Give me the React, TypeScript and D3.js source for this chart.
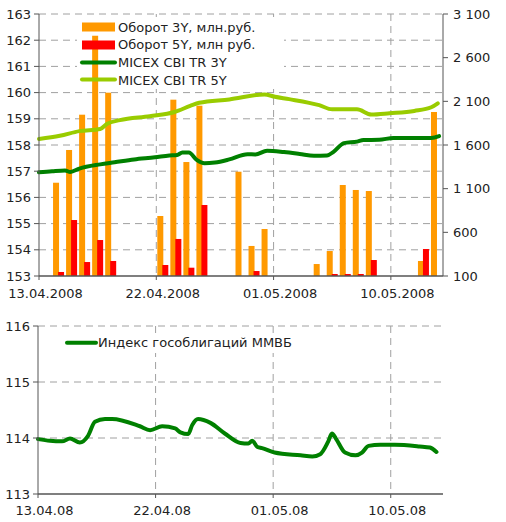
import React from 'react';
import * as d3 from 'd3';

// ---------- DATA ----------
const parse = d3.timeParse('%Y-%m-%d');
const START = parse('2008-04-13') as Date;
const END = parse('2008-05-14') as Date;

const barDates = ['2008-04-14', '2008-04-15', '2008-04-16', '2008-04-17', '2008-04-18',
  '2008-04-22', '2008-04-23', '2008-04-24', '2008-04-25', '2008-04-28', '2008-04-29',
  '2008-04-30', '2008-05-04', '2008-05-05', '2008-05-06', '2008-05-07', '2008-05-08',
  '2008-05-12', '2008-05-13'];
const turnover3Y = [1168, 1543, 1947, 2851, 2199, 787, 2119, 1405, 2050, 1294, 444, 638, 237, 386, 1142, 1085, 1073, 272, 1978];
const turnover5Y: (number | null)[] = [146, 741, 260, 512, 272, 226, 524, 195, 913, null, 157, null, null, 123, 123, 123, 283, 409, null];

// day offsets from 13.04.2008
const cbi3YDays = [0, 1, 2, 2.4, 3.1, 4.7, 5.8, 7.3, 8.9, 10, 10.6, 11, 11.5, 12.1, 12.7, 13.5, 14.6, 16, 16.6, 17.5, 18.8, 20, 21.1, 22.1, 22.6, 23.4, 24.4, 24.9, 26.1, 27.2, 30.1, 30.7];
const cbi3YValues = [156.96, 157.0, 157.03, 156.97, 157.1, 157.26, 157.34, 157.45, 157.53, 157.6, 157.62, 157.71, 157.71, 157.43, 157.3, 157.33, 157.45, 157.65, 157.64, 157.78, 157.73, 157.66, 157.59, 157.6, 157.74, 158.07, 158.13, 158.19, 158.2, 158.27, 158.27, 158.34];

const cbi5YDays = [0, 1.6, 3.1, 4.7, 5.2, 6.2, 8.5, 10.4, 11.6, 12.3, 14.6, 17.3, 18.1, 19.2, 21.5, 22.5, 24.4, 25.5, 26.9, 28.8, 30.1, 30.6];
const cbi5YValues = [158.23, 158.35, 158.53, 158.61, 158.8, 158.95, 159.1, 159.26, 159.49, 159.61, 159.74, 159.93, 159.84, 159.75, 159.52, 159.36, 159.36, 159.16, 159.21, 159.3, 159.44, 159.59];

const mmvbDays = [0, 0.92, 1.84, 2.45, 3.2, 3.83, 4.36, 5.13, 5.67, 7.8, 8.58, 9.5, 10.5, 10.9, 11.5, 11.8, 12.25, 13.2, 14.3, 15.5, 16.1, 16.4, 16.8, 17.15, 18.1, 20.1, 21, 21.6, 22.2, 22.5, 22.8, 23.5, 24.3, 24.8, 25.3, 26.2, 27.3, 29.2, 30, 30.5];
const mmvbValues = [113.98, 113.95, 113.94, 113.99, 113.92, 114.04, 114.29, 114.34, 114.34, 114.21, 114.14, 114.21, 114.17, 114.10, 114.07, 114.23, 114.34, 114.27, 114.08, 113.91, 113.9, 113.95, 113.84, 113.82, 113.74, 113.69, 113.67, 113.71, 113.93, 114.08, 113.99, 113.74, 113.69, 113.74, 113.86, 113.88, 113.88, 113.85, 113.83, 113.75];

const dateTicks = ['2008-04-13', '2008-04-22', '2008-05-01', '2008-05-10'];
const leftTicksTop = [153, 154, 155, 156, 157, 158, 159, 160, 161, 162, 163];
const rightTicksTop = [100, 600, 1100, 1600, 2100, 2600, 3100];
const rightTickLabels = ['100', '600', '1 100', '1 600', '2 100', '2 600', '3 100'];
const leftTicksBottom = [113, 114, 115, 116];

const legendTop = ['Оборот 3Y, млн.руб.', 'Оборот 5Y, млн руб.', 'MICEX CBI TR 3Y', 'MICEX CBI TR 5Y'];
const legendBottom = 'Индекс гособлигаций ММВБ';

// ---------- STYLE ----------
const ORANGE = '#ff9900';
const RED = '#ff0000';
const DKGREEN = '#008000';
const LTGREEN = '#99cc00';
const GRID = '#a0a0a0';
const AXIS = '#555555';
const TEXT = '#222222';
const FONT = 'DejaVu Sans, Verdana, sans-serif';

const dayDate = (d: number) => new Date(START.getTime() + d * 86400000);
const noon = (s: string) => new Date((parse(s) as Date).getTime() + 12 * 3600000);

export default function App() {
  // top chart scales
  const xT = d3.scaleTime().domain([START, END]).range([39, 443]);
  const yL = d3.scaleLinear().domain([153, 163]).range([276, 14]);
  const yR = d3.scaleLinear().domain([100, 3100]).range([276, 14]);
  // bottom chart scales
  const xB = d3.scaleTime().domain([START, END]).range([38, 443]);
  const yB = d3.scaleLinear().domain([113, 116]).range([494, 326]);

  const line3 = d3.line<number>()
    .x((_, i) => xT(dayDate(cbi3YDays[i])))
    .y((v) => yL(v))
    .curve(d3.curveMonotoneX);
  const line5 = d3.line<number>()
    .x((_, i) => xT(dayDate(cbi5YDays[i])))
    .y((v) => yL(v))
    .curve(d3.curveMonotoneX);
  const lineB = d3.line<number>()
    .x((_, i) => xB(dayDate(mmvbDays[i])))
    .y((v) => yB(v))
    .curve(d3.curveMonotoneX);

  const fmtLong = d3.timeFormat('%d.%m.%Y');
  const fmtShort = d3.timeFormat('%d.%m.%y');
  const barW = 6;

  return (
    <svg width={506} height={522} style={{ position: 'absolute', left: 0, top: 0, background: '#fff' }}
      fontFamily={FONT}>
      {/* ===== TOP CHART ===== */}
      <g>
        {leftTicksTop.slice(1).map((t) => (
          <line key={'hg' + t} x1={39} x2={443} y1={yL(t)} y2={yL(t)} stroke={GRID} strokeDasharray="7,5" />
        ))}
        {dateTicks.slice(1).map((s) => (
          <line key={'vg' + s} x1={xT(parse(s) as Date)} x2={xT(parse(s) as Date)} y1={14} y2={276}
            stroke={GRID} strokeDasharray="7,5" />
        ))}
        {/* legend background */}
        <rect x={77} y={17} width={207} height={72} fill="#fff" />
        {/* bars */}
        {barDates.map((s, i) => {
          const c = xT(noon(s));
          return (
            <g key={'b' + s}>
              <rect x={c - 5.5} y={yR(turnover3Y[i])} width={barW} height={yR(100) - yR(turnover3Y[i])} fill={ORANGE} />
              {turnover5Y[i] != null && (
                <rect x={c - 0.5} y={yR(turnover5Y[i] as number)} width={barW}
                  height={yR(100) - yR(turnover5Y[i] as number)} fill={RED} />
              )}
            </g>
          );
        })}
        <path d={line5(cbi5YValues) || ''} fill="none" stroke={LTGREEN} strokeWidth={4} strokeLinejoin="round" strokeLinecap="round" />
        <path d={line3(cbi3YValues) || ''} fill="none" stroke={DKGREEN} strokeWidth={4} strokeLinejoin="round" strokeLinecap="round" />
        {/* axes */}
        <line x1={39} x2={39} y1={14} y2={276} stroke={AXIS} />
        <line x1={443} x2={443} y1={14} y2={276} stroke={AXIS} />
        <line x1={39} x2={443} y1={276} y2={276} stroke={AXIS} strokeWidth={1.5} />
        {leftTicksTop.map((t) => (
          <g key={'lt' + t}>
            <line x1={34} x2={39} y1={yL(t)} y2={yL(t)} stroke={AXIS} />
            <text x={31} y={yL(t)} dy="0.35em" textAnchor="end" fontSize={13} fill={TEXT}>{t}</text>
          </g>
        ))}
        {rightTicksTop.map((t, i) => (
          <g key={'rt' + t}>
            <line x1={443} x2={448} y1={yR(t)} y2={yR(t)} stroke={AXIS} />
            <text x={453} y={yR(t)} dy="0.35em" textAnchor="start" fontSize={13} fill={TEXT}>{rightTickLabels[i]}</text>
          </g>
        ))}
        {dateTicks.map((s) => (
          <g key={'dt' + s}>
            <line x1={xT(parse(s) as Date)} x2={xT(parse(s) as Date)} y1={276} y2={280} stroke={AXIS} />
            <text x={xT(noon(s))} y={298} textAnchor="middle" fontSize={13} fill={TEXT}>{fmtLong(parse(s) as Date)}</text>
          </g>
        ))}
        {/* legend */}
        <rect x={82} y={22.5} width={33} height={9} fill={ORANGE} />
        <rect x={82} y={40.5} width={33} height={9} fill={RED} />
        <line x1={82} x2={115} y1={62.5} y2={62.5} stroke={DKGREEN} strokeWidth={4} strokeLinecap="round" />
        <line x1={82} x2={115} y1={79.5} y2={79.5} stroke={LTGREEN} strokeWidth={4} strokeLinecap="round" />
        {legendTop.map((t, i) => (
          <text key={'lg' + i} x={118} y={27 + i * 17.8} dy="0.35em" fontSize={13} fill={TEXT}>{t}</text>
        ))}
      </g>

      {/* ===== BOTTOM CHART ===== */}
      <g>
        {leftTicksBottom.slice(1).map((t) => (
          <line key={'bhg' + t} x1={38} x2={443} y1={yB(t)} y2={yB(t)} stroke={GRID} strokeDasharray="7,5" />
        ))}
        {dateTicks.slice(1).map((s) => (
          <line key={'bvg' + s} x1={xB(parse(s) as Date)} x2={xB(parse(s) as Date)} y1={326} y2={494}
            stroke={GRID} strokeDasharray="7,5" />
        ))}
        <rect x={62} y={334} width={232} height={19} fill="#fff" />
        <path d={lineB(mmvbValues) || ''} fill="none" stroke={DKGREEN} strokeWidth={4} strokeLinejoin="round" strokeLinecap="round" />
        <line x1={38} x2={38} y1={326} y2={494} stroke={AXIS} />
        <line x1={38} x2={443} y1={494} y2={494} stroke={AXIS} strokeWidth={1.5} />
        {leftTicksBottom.map((t) => (
          <g key={'blt' + t}>
            <line x1={33} x2={38} y1={yB(t)} y2={yB(t)} stroke={AXIS} />
            <text x={30} y={yB(t)} dy="0.35em" textAnchor="end" fontSize={13} fill={TEXT}>{t}</text>
          </g>
        ))}
        {dateTicks.map((s) => (
          <g key={'bdt' + s}>
            <line x1={xB(parse(s) as Date)} x2={xB(parse(s) as Date)} y1={494} y2={498} stroke={AXIS} />
            <text x={xB(noon(s))} y={515} textAnchor="middle" fontSize={13} fill={TEXT}>{fmtShort(parse(s) as Date)}</text>
          </g>
        ))}
        <line x1={67} x2={96} y1={342.7} y2={342.7} stroke={DKGREEN} strokeWidth={4} strokeLinecap="round" />
        <text x={98} y={342.7} dy="0.35em" fontSize={13} fill={TEXT}>{legendBottom}</text>
      </g>
    </svg>
  );
}
